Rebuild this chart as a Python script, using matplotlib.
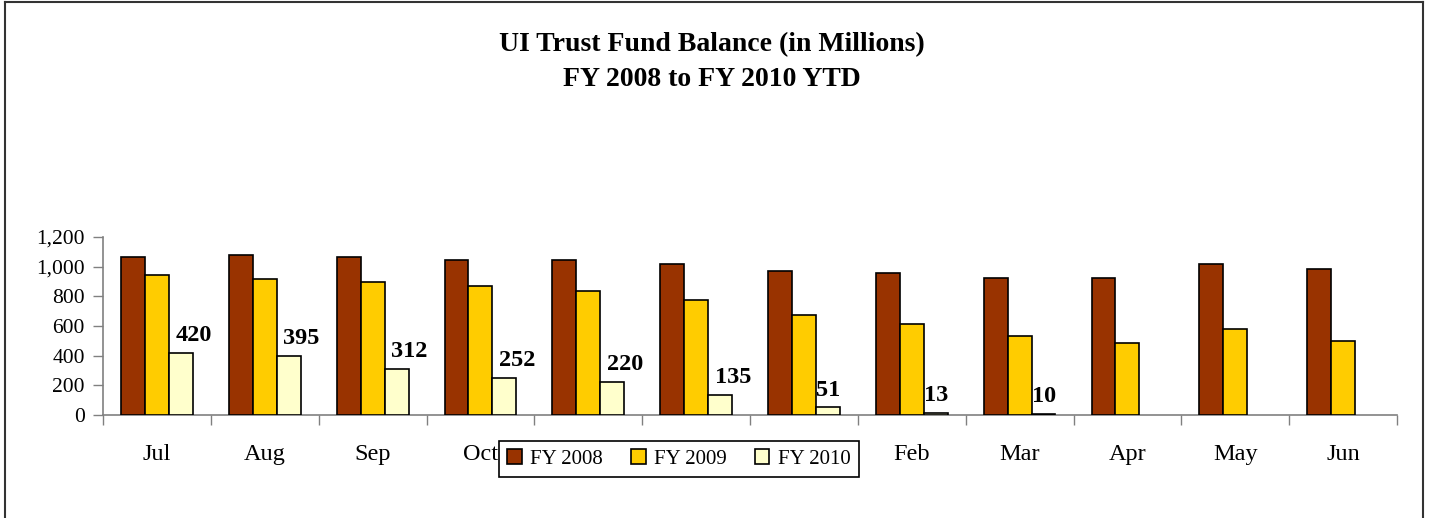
import matplotlib
matplotlib.use("Agg")
import matplotlib.pyplot as plt
import numpy as np

months = ["Jul", "Aug", "Sep", "Oct", "Nov", "Dec", "Jan", "Feb", "Mar", "Apr", "May", "Jun"]
fy2008 = [1065, 1081, 1065, 1043, 1043, 1020, 969, 960, 921, 921, 1020, 982]
fy2009 = [946, 919, 897, 872, 836, 775, 676, 616, 533, 483, 582, 497]
fy2010 = [420, 395, 312, 252, 220, 135, 51, 13, 10]
series_names = ["FY 2008", "FY 2009", "FY 2010"]
colors = ["#993300", "#FFCC00", "#FFFFCC"]
yticks = [0, 200, 400, 600, 800, 1000, 1200]

plt.rcParams['font.family'] = ['Liberation Serif', 'DejaVu Serif']

fig = plt.figure(figsize=(14.29, 5.18), dpi=100)
ax = fig.add_axes([0.0721, 0.1988, 0.9055, 0.3437])

w = 0.222
x = np.arange(len(months))
bars = []
for k, (vals, c, name) in enumerate(zip([fy2008, fy2009, fy2010], colors, series_names)):
    xs = np.arange(len(vals)) + (k - 1) * w
    b = ax.bar(xs, vals, width=w, color=c, edgecolor="black", linewidth=1.2, label=name, zorder=3)
    bars.append(b)

for i, v in enumerate(fy2010):
    left = i + w - w / 2
    off = 0.06 if v >= 100 else 0.0
    ax.annotate(f"{v:,}", xy=(left + off, v), xytext=(0, 5), textcoords="offset points",
                ha="left", va="bottom", fontsize=17.5, fontweight="bold", zorder=4)

ax.set_xlim(-0.5, len(months) - 0.5)
ax.set_ylim(0, 1200)
ax.set_yticks(yticks)
ax.set_yticklabels([f"{t:,}" for t in yticks])

ax.set_xticks(np.arange(-0.5, len(months)), minor=False)
ax.set_xticklabels([])
ax.set_xticks(x, minor=True)
ax.set_xticklabels(months, minor=True)
ax.tick_params(axis="x", which="major", direction="out", length=7, width=1, color="#808080")
ax.tick_params(axis="x", which="minor", length=0, pad=21, labelsize=17.5)
ax.tick_params(axis="y", direction="out", length=7, width=1, color="#808080", pad=6, labelsize=15.5)

for s in ["top", "right"]:
    ax.spines[s].set_visible(False)
for s in ["left", "bottom"]:
    ax.spines[s].set_color("#808080")
    ax.spines[s].set_linewidth(1.2)

fig.text(0.4985, 1 - 45 / 518, "UI Trust Fund Balance (in Millions)", ha="center", va="center",
         fontsize=20, fontweight="bold")
fig.text(0.4985, 1 - 79 / 518, "FY 2008 to FY 2010 YTD", ha="center", va="center",
         fontsize=20, fontweight="bold")

leg = fig.legend(handles=bars, labels=series_names, loc="center", bbox_to_anchor=(0.475, 1 - 459 / 518),
                 ncol=3, frameon=True, fancybox=False, fontsize=15, handlelength=0.7, handleheight=0.7,
                 handletextpad=0.4, columnspacing=1.35, borderpad=0.4, edgecolor="black", framealpha=1)
leg.get_frame().set_linewidth(1.2)
leg.set_zorder(10)

# outer chart border (left, top, right)
fig.add_artist(plt.Line2D([5 / 1429, 5 / 1429], [-0.05, 1 - 2 / 518], transform=fig.transFigure,
                          color="#333333", linewidth=1.5))
fig.add_artist(plt.Line2D([5 / 1429, 1423 / 1429], [1 - 2 / 518, 1 - 2 / 518], transform=fig.transFigure,
                          color="#333333", linewidth=1.5))
fig.add_artist(plt.Line2D([1423 / 1429, 1423 / 1429], [-0.05, 1 - 2 / 518], transform=fig.transFigure,
                          color="#333333", linewidth=1.5))

fig.savefig("out.png", dpi=100)
